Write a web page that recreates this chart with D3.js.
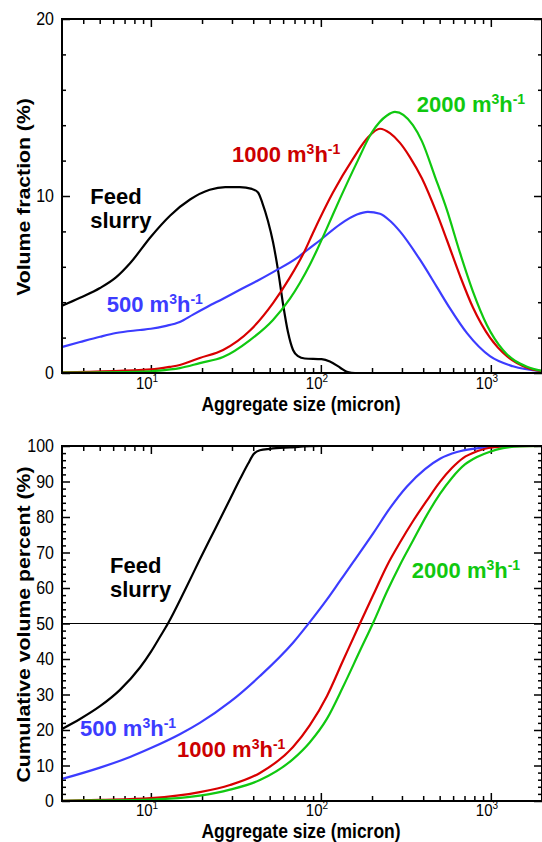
<!DOCTYPE html>
<html>
<head>
<meta charset="utf-8">
<script src="https://cdn.jsdelivr.net/npm/d3@7"></script>
<style>
body { margin: 0; background: #fff; }
svg { display: block; }
text { font-family: "Liberation Sans", Arial, sans-serif; }
</style>
</head>
<body>
<div id="chart"></div>
<script>
// ---- values (size in micron) ----
var xMajorTicks = [10, 100, 1000];
var xMajorExp = ["1", "2", "3"];
var xMinorTicks = [4, 5, 6, 7, 8, 9, 20, 30, 40, 50, 60, 70, 80, 90, 200, 300, 400, 500, 600, 700, 800, 900];

// volume fraction (%)
var feedFracSize = [3, 3.83, 5.02, 6.23, 7.54, 10, 13, 17, 22.2, 27.4, 33.4, 39.3, 42.7, 45.3, 48.8, 52.3, 56, 59.9, 64.1, 68.6, 73.4, 80.4, 101, 113, 130, 144, 159, 2000];
var feedFrac     = [3.8, 4.25, 4.8, 5.4, 6.2, 7.7, 8.9, 9.8, 10.35, 10.5, 10.5, 10.4, 10.2, 9.6, 8.6, 7.4, 5.8, 3.9, 2.3, 1.3, 0.95, 0.82, 0.78, 0.65, 0.3, 0.05, 0, 0];
var q500FracSize = [3, 3.83, 5.02, 6.23, 8.63, 10, 12.1, 14.8, 17.7, 21.4, 26.6, 33.4, 42.1, 52.3, 72.4, 86, 98.9, 129.6, 163, 189, 222.8, 255, 292, 383, 482, 575, 724, 988, 1349, 2000];
var q500Frac     = [1.47, 1.75, 2.05, 2.26, 2.43, 2.5, 2.65, 2.88, 3.3, 3.73, 4.2, 4.7, 5.2, 5.7, 6.5, 7.06, 7.5, 8.4, 8.95, 9.1, 9.0, 8.6, 8.0, 6.4, 4.85, 3.65, 2.25, 0.95, 0.38, 0.1];
var q1000FracSize = [3, 10, 13, 14.8, 19.4, 26.6, 38.3, 52.3, 65.8, 80.4, 89.7, 117.8, 154.5, 189, 222.8, 255, 292, 334, 393, 482, 552, 658, 785, 988, 1244, 1631, 2000];
var q1000Frac     = [0.03, 0.2, 0.35, 0.45, 0.85, 1.3, 2.4, 3.95, 5.4, 6.9, 7.9, 10.2, 12.1, 13.3, 13.8, 13.55, 13.0, 12.2, 11.0, 9.0, 7.5, 5.5, 3.7, 2.0, 0.95, 0.3, 0.1];
var q2000FracSize = [3, 10, 13, 14.8, 19.4, 26.6, 38.3, 52.3, 65.8, 75.4, 86, 94.9, 108.7, 129.6, 163, 199.8, 244.9, 272.9, 348, 393, 469, 552, 658, 785, 949, 1178, 1631, 2000];
var q2000Frac     = [0.02, 0.1, 0.2, 0.28, 0.56, 0.9, 1.86, 3.0, 4.2, 5.1, 6.1, 6.95, 8.2, 9.85, 11.9, 13.6, 14.55, 14.75, 14.0, 13.1, 11.1, 9.2, 6.8, 4.6, 2.7, 1.3, 0.35, 0.12];

// cumulative volume percent (%)
var feedCumSize = [3, 3.83, 5.02, 6.58, 8.63, 10, 11.3, 12.6, 15.9, 19.4, 23.8, 29.2, 33.4, 37.3, 40.4, 43.8, 50.2, 65.8, 98.9, 2000];
var feedCum     = [20.3, 23.1, 26.7, 31.3, 37.6, 42.0, 46.2, 50, 59.5, 68, 76.5, 85, 90.6, 95, 97.8, 98.8, 99.2, 99.6, 100, 100];
var q500CumSize = [3, 5.02, 7.54, 10, 14.8, 19.4, 29.2, 43.8, 68.6, 86, 108.7, 129.6, 154.5, 204.5, 255, 321, 410, 502, 632, 785, 988, 1483, 2000];
var q500Cum     = [6.2, 9.4, 12.4, 14.9, 18.8, 22.0, 27.9, 35.2, 44.6, 50.4, 56.8, 62.0, 67.2, 75.6, 82.5, 88.6, 93.5, 96.4, 98.3, 99.2, 99.7, 100, 100];
var q1000CumSize = [3, 5.02, 10, 19.4, 29.2, 43.8, 68.6, 86, 108.7, 134.9, 169.8, 204.5, 244.9, 292, 348, 421, 502, 590, 686, 829, 988, 1295, 2000];
var q1000Cum     = [0.05, 0.3, 0.8, 2.5, 4.5, 7.9, 15.2, 21.3, 29.6, 39.5, 50.0, 58.3, 66.3, 72.8, 78.8, 84.7, 89.9, 93.8, 96.6, 98.5, 99.5, 99.95, 100];
var q2000CumSize = [3, 5.02, 10, 19.4, 29.2, 43.8, 68.6, 86, 108.7, 134.9, 169.8, 204.5, 244.9, 292, 348, 421, 502, 590, 704, 829, 988, 1178, 1483, 2000];
var q2000Cum     = [0.03, 0.15, 0.4, 1.5, 3.2, 5.9, 11.8, 16.5, 23.2, 32.1, 42.3, 50.5, 59.0, 66.5, 73.3, 80.6, 86.5, 91.0, 94.8, 96.9, 98.4, 99.4, 99.9, 100];

var seriesColors = { feed: "#000000", q500: "#3c3cff", q1000: "#d80000", q2000: "#10c810" };
var labelColors = { feed: "#000000", q500: "#3c3cff", q1000: "#cc0000", q2000: "#10c810" };

// label anchors (size, value) and text
var fracLabels = [
    { key: "feed", d: 4.4, v: 9.55, main: "Feed" },
    { key: "feed", d: 4.4, v: 8.2, main: "slurry" },
    { key: "q500", d: 5.5, v: 3.45, main: "500 m" },
    { key: "q1000", d: 30, v: 11.9, main: "1000 m" },
    { key: "q2000", d: 367, v: 14.75, main: "2000 m" }
];
var cumLabels = [
    { key: "feed", d: 5.75, v: 64.3, main: "Feed" },
    { key: "feed", d: 5.75, v: 57.5, main: "slurry" },
    { key: "q500", d: 3.83, v: 18.3, main: "500 m" },
    { key: "q1000", d: 14.25, v: 12.4, main: "1000 m" },
    { key: "q2000", d: 343, v: 62.8, main: "2000 m" }
];

var svgWidth = 542, svgHeight = 842;
var plotLeft = 62, plotRight = 542;

var svg = d3.select("#chart").append("svg")
    .attr("width", svgWidth)
    .attr("height", svgHeight);

function drawPanel(cfg) {
    var x = d3.scaleLog().domain([3, 2000]).range([plotLeft, plotRight]);
    var y = d3.scaleLinear().domain([0, cfg.yMax]).range([cfg.bottom, cfg.top]);
    var g = svg.append("g");

    g.append("clipPath").attr("id", cfg.id + "clip")
        .append("rect")
        .attr("x", plotLeft).attr("y", cfg.top - 2)
        .attr("width", plotRight - plotLeft).attr("height", cfg.bottom - cfg.top + 2);

    // ticks (all pointing inward)
    function ticks(axis, vals, len, tx, ty) {
        var a = g.append("g")
            .attr("transform", `translate(${tx},${ty})`)
            .call(axis.tickValues(vals).tickSize(-len).tickSizeOuter(0).tickFormat(""));
        a.select(".domain").remove();
        a.selectAll("line").attr("stroke", "#000").attr("stroke-width", 1.5);
    }
    ticks(d3.axisBottom(x), xMajorTicks, 8, 0, cfg.bottom);
    ticks(d3.axisBottom(x), xMinorTicks, 5, 0, cfg.bottom);
    ticks(d3.axisTop(x), xMajorTicks, 8, 0, cfg.top);
    ticks(d3.axisTop(x), xMinorTicks, 5, 0, cfg.top);
    ticks(d3.axisLeft(y), cfg.yMajor, 8, plotLeft, 0);
    ticks(d3.axisLeft(y), cfg.yMinor, 4, plotLeft, 0);
    ticks(d3.axisRight(y), cfg.yMajor, 8, plotRight, 0);
    ticks(d3.axisRight(y), cfg.yMinor, 4, plotRight, 0);

    // reference line
    if (cfg.refLine != null) {
        g.append("line")
            .attr("x1", plotLeft).attr("x2", plotRight)
            .attr("y1", y(cfg.refLine)).attr("y2", y(cfg.refLine))
            .attr("stroke", "#000").attr("stroke-width", 1);
    }

    // curves
    var line = d3.line()
        .x(function(p) { return x(p[0]); })
        .y(function(p) { return y(p[1]); })
        .curve(d3.curveMonotoneX);
    var curves = g.append("g").attr("clip-path", `url(#${cfg.id}clip)`);
    cfg.series.forEach(function(s) {
        curves.append("path")
            .datum(d3.zip(s.size, s.val))
            .attr("d", line)
            .attr("fill", "none")
            .attr("stroke", seriesColors[s.key])
            .attr("stroke-width", 2.2);
    });

    // frame
    g.append("rect")
        .attr("x", plotLeft).attr("y", cfg.top)
        .attr("width", plotRight - plotLeft).attr("height", cfg.bottom - cfg.top)
        .attr("fill", "none").attr("stroke", "#000").attr("stroke-width", 2);

    // y tick labels
    cfg.yMajor.forEach(function(v) {
        g.append("text")
            .attr("transform", `translate(${plotLeft - 8},${y(v) + 6}) scale(1,1.15)`)
            .attr("text-anchor", "end")
            .attr("font-size", 16)
            .text(v);
    });

    // x tick labels 10^n
    xMajorTicks.forEach(function(v, i) {
        var t = g.append("text")
            .attr("transform", `translate(${x(v) - 15},${cfg.bottom + cfg.tickGap}) scale(1,1.1)`)
            .attr("font-size", 15);
        t.append("tspan").text("10");
        t.append("tspan").attr("dy", -6).attr("font-size", 10).text(xMajorExp[i]);
    });

    // axis titles
    g.append("text")
        .attr("transform", `translate(301,${cfg.bottom + cfg.titleGap}) scale(1,1.12)`)
        .attr("text-anchor", "middle")
        .attr("font-size", 17.5).attr("font-weight", "bold")
        .text("Aggregate size (micron)");
    g.append("text")
        .attr("transform", `translate(30,${(cfg.top + cfg.bottom) / 2 + 1}) rotate(-90) scale(1.18,1)`)
        .attr("text-anchor", "middle")
        .attr("font-size", 18).attr("font-weight", "bold")
        .text(cfg.yTitle);

    // series labels
    cfg.labels.forEach(function(l) {
        var t = g.append("text")
            .attr("x", x(l.d)).attr("y", y(l.v))
            .attr("font-size", 22).attr("font-weight", "bold")
            .attr("fill", labelColors[l.key]);
        t.append("tspan").text(l.main);
        if (l.key !== "feed") {
            t.append("tspan").attr("dy", -8).attr("font-size", 14).text("3");
            t.append("tspan").attr("dy", 8).text("h");
            t.append("tspan").attr("dy", -8).attr("font-size", 14).text("-1");
        }
    });
}

drawPanel({
    id: "frac", top: 19, bottom: 373, yMax: 20, titleGap: 38, tickGap: 16,
    yMajor: [0, 10, 20], yMinor: [2, 4, 6, 8, 12, 14, 16, 18],
    yTitle: "Volume fraction (%)", refLine: null,
    series: [
        { key: "feed", size: feedFracSize, val: feedFrac },
        { key: "q500", size: q500FracSize, val: q500Frac },
        { key: "q1000", size: q1000FracSize, val: q1000Frac },
        { key: "q2000", size: q2000FracSize, val: q2000Frac }
    ],
    labels: fracLabels
});

drawPanel({
    id: "cum", top: 446, bottom: 801, yMax: 100, titleGap: 36.5, tickGap: 14.5,
    yMajor: d3.range(0, 101, 10), yMinor: d3.range(2, 100, 2).filter(function(v) { return v % 10 !== 0; }),
    yTitle: "Cumulative volume percent (%)", refLine: 50,
    series: [
        { key: "feed", size: feedCumSize, val: feedCum },
        { key: "q500", size: q500CumSize, val: q500Cum },
        { key: "q1000", size: q1000CumSize, val: q1000Cum },
        { key: "q2000", size: q2000CumSize, val: q2000Cum }
    ],
    labels: cumLabels
});
</script>
</body>
</html>
